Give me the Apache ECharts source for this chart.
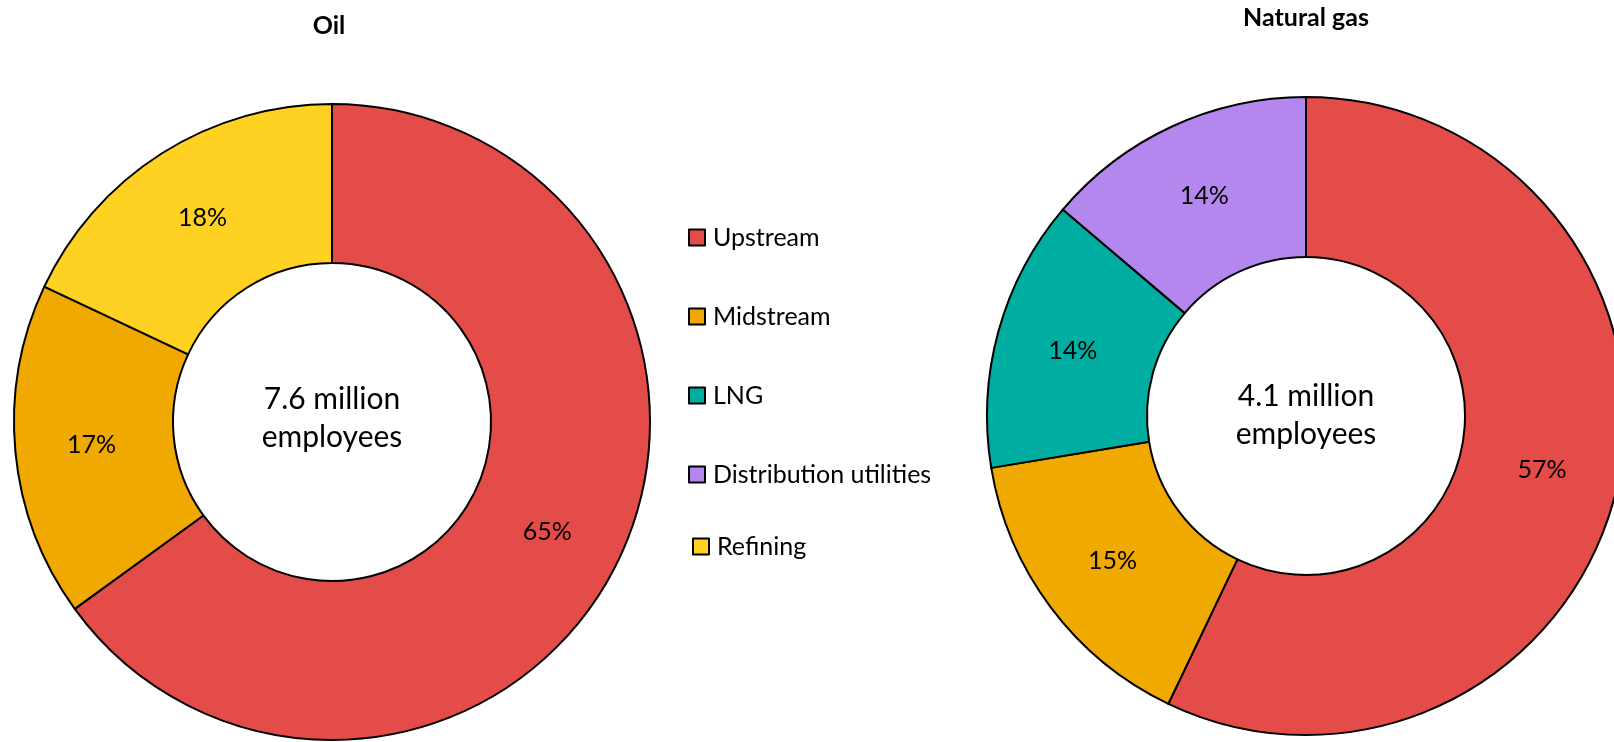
<!DOCTYPE html>
<html>
<head>
<meta charset="utf-8">
<script src="https://cdn.jsdelivr.net/npm/echarts@6/dist/echarts.min.js"></script>
<style>
html,body{margin:0;padding:0;background:#fff;}
#chart{width:1614px;height:742px;}
</style>
</head>
<body>
<div id="chart"></div>
<script>
var oilCategories = ['Upstream', 'Midstream', 'Refining'];
var oilValues = [65, 17, 18];
var gasCategories = ['Upstream', 'Midstream', 'LNG', 'Distribution utilities'];
var gasValues = [57.1, 15.3, 13.8, 13.8];
var legendItems = ['Upstream', 'Midstream', 'LNG', 'Distribution utilities'];
var legendLast = ['Refining'];
var oilTotal = '7.6 million\nemployees';
var gasTotal = '4.1 million\nemployees';

var colors = {
  'Upstream': '#E44C4A',
  'Midstream': '#F0A900',
  'LNG': '#00ADA1',
  'Distribution utilities': '#B387EE',
  'Refining': '#FED122'
};
var FONT = 'Lato, "Open Sans", sans-serif';

function mk(cats, vals) {
  return cats.map(function (c, i) {
    return { name: c, value: vals[i], itemStyle: { color: colors[c] } };
  });
}

var labelCfg = {
  show: true,
  position: 'inside',
  fontFamily: FONT,
  fontSize: 25,
  color: '#000',
  formatter: function (p) { return Math.round(p.value) + '%'; }
};

var chart = echarts.init(document.getElementById('chart'));
var legendCommon = {
  orient: 'vertical',
  icon: 'rect',
  itemWidth: 16,
  itemHeight: 16,
  itemGap: 54,
  itemStyle: { borderColor: '#000', borderWidth: 2 },
  textStyle: { fontFamily: FONT, fontSize: 25, color: '#000', lineHeight: 16, padding: [0, 0, 0, 3] },
  selectedMode: false,
  padding: 0
};
chart.setOption({
  backgroundColor: '#fff',
  animation: false,
  title: [
    { text: 'Oil', left: 329, top: 13, textAlign: 'center', padding: 0,
      textStyle: { fontFamily: FONT, fontSize: 25, fontWeight: 'bold', color: '#000' } },
    { text: 'Natural gas', left: 1306, top: 5, textAlign: 'center', padding: 0,
      textStyle: { fontFamily: FONT, fontSize: 25, fontWeight: 'bold', color: '#000' } }
  ],
  legend: [
    Object.assign({}, legendCommon, { data: legendItems, left: 688, top: 225 }),
    Object.assign({}, legendCommon, { data: legendLast, left: 692, top: 534 })
  ],
  graphic: [
    { type: 'text', x: 332, y: 418, style: { text: oilTotal, fontFamily: FONT, fontSize: 30, lineHeight: 38, fill: '#000', align: 'center', verticalAlign: 'middle' } },
    { type: 'text', x: 1306, y: 415, style: { text: gasTotal, fontFamily: FONT, fontSize: 30, lineHeight: 38, fill: '#000', align: 'center', verticalAlign: 'middle' } }
  ],
  series: [
    {
      name: 'Oil', type: 'pie', center: [332, 422], radius: [159, 318],
      startAngle: 90, clockwise: true, avoidLabelOverlap: false,
      itemStyle: { borderColor: '#000', borderWidth: 2 },
      label: labelCfg, labelLine: { show: false },
      emphasis: { disabled: true },
      data: mk(oilCategories, oilValues)
    },
    {
      name: 'Natural gas', type: 'pie', center: [1306, 416], radius: [159, 319],
      startAngle: 90, clockwise: true, avoidLabelOverlap: false,
      itemStyle: { borderColor: '#000', borderWidth: 2 },
      label: labelCfg, labelLine: { show: false },
      emphasis: { disabled: true },
      data: mk(gasCategories, gasValues)
    }
  ]
});
</script>
</body>
</html>
